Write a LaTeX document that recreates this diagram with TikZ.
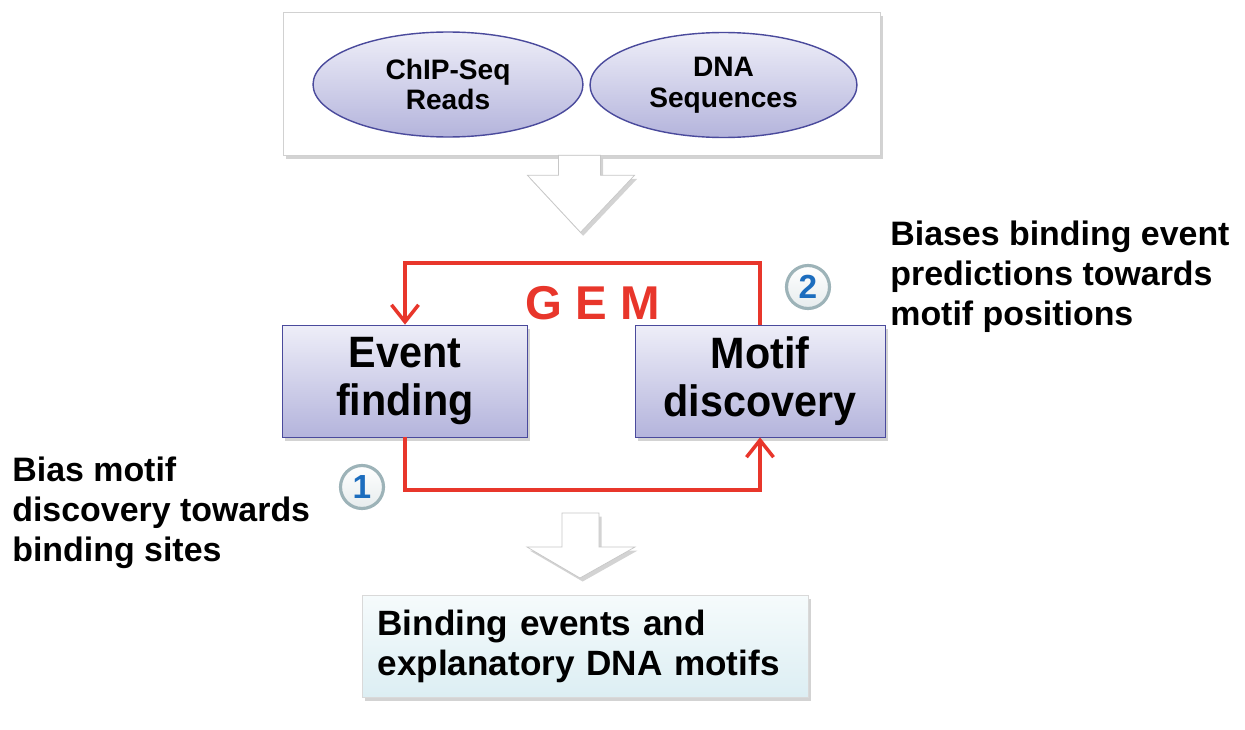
\documentclass[tikz,border=0pt]{standalone}
\usepackage{fontspec}
\setmainfont{Liberation Sans}
\newfontfamily\stagefont{Liberation Sans}[FakeStretch=0.94]
\usetikzlibrary{arrows.meta,shadows,shapes.geometric}

\definecolor{gemred}{HTML}{E8362B}
\definecolor{numblue}{HTML}{1C6DBE}
\definecolor{lavtop}{HTML}{EEEEF8}
\definecolor{lavbot}{HTML}{B4B4DC}
\definecolor{lavline}{HTML}{4A4A9C}
\definecolor{aquatop}{HTML}{F6FBFC}
\definecolor{aquabot}{HTML}{DCEEF3}
\definecolor{ringgray}{HTML}{9DB3B8}

\begin{document}
\begin{tikzpicture}[
  x=0.02cm,y=-0.02cm,
  >={Straight Barb[length=3.4mm,width=5.4mm,line width=2pt]},
  shade/.style={drop shadow={shadow xshift=1.5pt,shadow yshift=-2pt,opacity=.35}},
  panel/.style={draw=black!18,fill=white,shade,minimum width=11.94cm,minimum height=2.86cm},
  source/.style={ellipse,draw=lavline,thick,top color=lavtop,bottom color=lavbot,
    minimum width=5.4cm,minimum height=2.1cm,align=center,inner sep=0pt,
    font=\bfseries\fontsize{16}{17.5}\selectfont},
  stage/.style={draw=lavline,top color=lavtop,bottom color=lavbot,shade,
    minimum width=4.9cm,minimum height=2.24cm,align=center,inner sep=0pt,
    font=\stagefont\bfseries\fontsize{25}{27}\selectfont},
  result/.style={draw=black!15,top color=aquatop,bottom color=aquabot,shade,
    minimum height=2.04cm,text width=8.3cm,inner xsep=0.31cm,align=left,
    font=\bfseries\fontsize{20}{22.7}\selectfont},
  hollow/.style={draw=black!22,fill=white,shade},
  loop/.style={draw=gemred,line width=2.2pt},
  badge/.style={circle,draw=ringgray,line width=1.8pt,top color=white,bottom color=ringgray!25,
    minimum size=0.86cm,inner sep=0pt,text=numblue,font=\bfseries\fontsize{19}{19}\selectfont},
  note/.style={anchor=west,align=left,inner sep=0pt,font=\bfseries\fontsize{19.3}{22.7}\selectfont},
]
  \useasboundingbox (0,0) rectangle (1245,730);

  % inputs
  \node[panel] (inp) at (581.5,83.5) {};
  \node[source] (reads) at (448,84.5) {ChIP-Seq\\Reads};
  \node[source,minimum width=5.34cm] (seqs) at (723.5,85) {DNA\\Sequences};
  \draw[hollow] (inp.south) ++(-23,0) -- ++(42,0) -- ++(0,20) -- ++(34,0)
    -- ++(-54,57) -- ++(-53,-57) -- ++(31,0) -- cycle;

  % GEM loop
  \node[stage] (ev) at (405,381) {Event\\finding};
  \node[stage,minimum width=5cm] (mo) at (760,381) {Motif\\discovery};
  \node[text=gemred,font=\bfseries\fontsize{27}{27}\selectfont] (gem) at (593,303) {G E M};
  \draw[loop,->] (mo.north) -- ++(0,-62) -| (ev.north);
  \draw[loop,->] (ev.south) -- ++(0,53) -| (mo.south);
  \node[badge] (one) at (362,487) {1};
  \node[badge] (two) at (808,287) {2};
  \node[note] (bias) at (12,513) {Bias motif\\discovery towards\\binding sites};
  \node[note] (biases) at (890,277) {Biases binding event\\predictions towards\\motif positions};

  % output
  \draw[hollow] (580,513) ++(-18,0) -- ++(37,0) -- ++(0,34) -- ++(36,0)
    -- ++(-55,31) -- ++(-53,-31) -- ++(35,0) -- cycle;
  \node[result] (out) at (585,646) {Binding events and\\explanatory DNA motifs};
\end{tikzpicture}
\end{document}
